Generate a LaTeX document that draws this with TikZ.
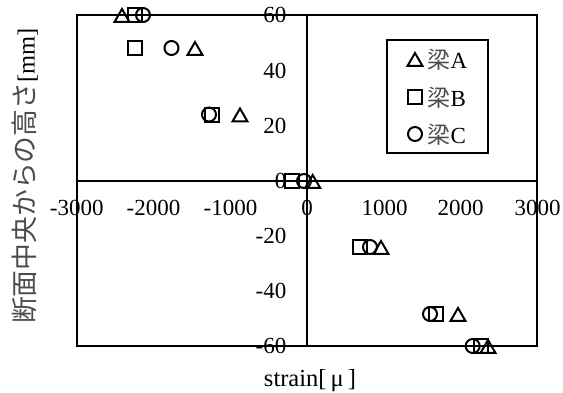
\documentclass[tikz,border=0pt]{standalone}
\usepackage{fontspec}
\setmainfont{Liberation Serif}
\newfontfamily\cjk{Noto Sans CJK JP}
\usetikzlibrary{shapes.geometric}
\definecolor{cjkgray}{gray}{0.3}
\tikzset{
  frameline/.style={draw=black,line width=1.9pt},
  lab/.style={font=\fontsize{23}{25}\selectfont,text=black,inner sep=0pt},
  ylab/.style={lab,anchor=east},
  ttl/.style={font=\fontsize{24.5}{26}\selectfont,text=black,inner sep=0pt},
  mk/.style={draw=black,line width=2pt,fill=none,inner sep=0pt,outer sep=0pt},
  mtri/.style={mk,regular polygon,regular polygon sides=3,minimum size=17pt,yshift=-2.5pt},
  msq/.style={mk,rectangle,minimum size=14pt},
  mcir/.style={mk,circle,minimum size=14pt},
  legtext/.style={lab,anchor=west},
}
\begin{document}
\begin{tikzpicture}[x=1pt,y=-1pt]
\useasboundingbox (0,0) rectangle (563,392);
\fill[white] (0,0) rectangle (563,392);
% plot frame and axes
\coordinate (tl) at (77,15);
\coordinate (br) at (537,346);
\coordinate (xl) at (77,181);
\coordinate (xr) at (537,181);
\coordinate (yt) at (307,15);
\coordinate (yb) at (307,346);
% tick labels
\node[ylab] (y60) at (286.5,15) {60};
\node[ylab] (y40) at (286.5,71) {40};
\node[ylab] (y20) at (286.5,126) {20};
\node[ylab] (y0) at (286.5,180.5) {0};
\node[ylab] (ym20) at (286.5,236) {-20};
\node[ylab] (ym40) at (286.5,291) {-40};
\node[ylab] (ym60) at (286.5,346) {-60};
\node[lab] (xm3) at (76.7,208) {-3000};
\node[lab] (xm2) at (153.5,208) {-2000};
\node[lab] (xm1) at (230.5,208) {-1000};
\node[lab] (x0) at (307,208) {0};
\node[lab] (x1) at (384.5,208) {1000};
\node[lab] (x2) at (460.5,208) {2000};
\node[lab] (x3) at (537.5,208) {3000};
\draw[frameline] (tl) rectangle (br);
\draw[frameline] (xl) -- (xr);
\draw[frameline] (yt) -- (yb);
% axis titles
\node[ttl] (xtitle) at (310,381) {strain[\,μ\,]};
\node[ttl,rotate=90,text=cjkgray] (ytitle) at (25,176) {{\cjk\fontsize{26.8}{28}\selectfont 断面中央からの高さ}\textcolor{black}{[mm]}};
% data
\node[mtri] (a1) at (122,15) {};
\node[mtri] (a2) at (195,48) {};
\node[mtri] (a3) at (240,114.5) {};
\node[mtri] (a4) at (312.7,181) {};
\node[mtri] (a5) at (381,247) {};
\node[mtri] (a6) at (458,314) {};
\node[mtri] (a7) at (488,346) {};
\node[msq] (b1) at (134.5,15) {};
\node[msq] (b2) at (134.5,48) {};
\node[msq] (b3) at (212,114.5) {};
\node[msq] (b4) at (292,181) {};
\node[msq] (b5) at (360,247) {};
\node[msq] (b6) at (435.7,314) {};
\node[msq] (b7) at (481,346) {};
\node[mcir] (c1) at (143,15) {};
\node[mcir] (c2) at (171.5,48) {};
\node[mcir] (c3) at (209,114.5) {};
\node[mcir] (c4) at (304,181) {};
\node[mcir] (c5) at (370,247) {};
\node[mcir] (c6) at (430,314) {};
\node[mcir] (c7) at (472.7,346) {};
% legend
\draw[frameline,fill=white] (387,40) rectangle (488,153);
\node[mtri] (la) at (415,59) {};
\node[msq] (lb) at (415,97) {};
\node[mcir] (lc) at (415,134) {};
\node[legtext,text=cjkgray] (ta) at (427.5,59.5) {{\cjk 梁}\textcolor{black}{A}};
\node[legtext,text=cjkgray] (tb) at (427.5,97.5) {{\cjk 梁}\textcolor{black}{B}};
\node[legtext,text=cjkgray] (tc) at (427.5,135) {{\cjk 梁}\textcolor{black}{C}};
\end{tikzpicture}
\end{document}
